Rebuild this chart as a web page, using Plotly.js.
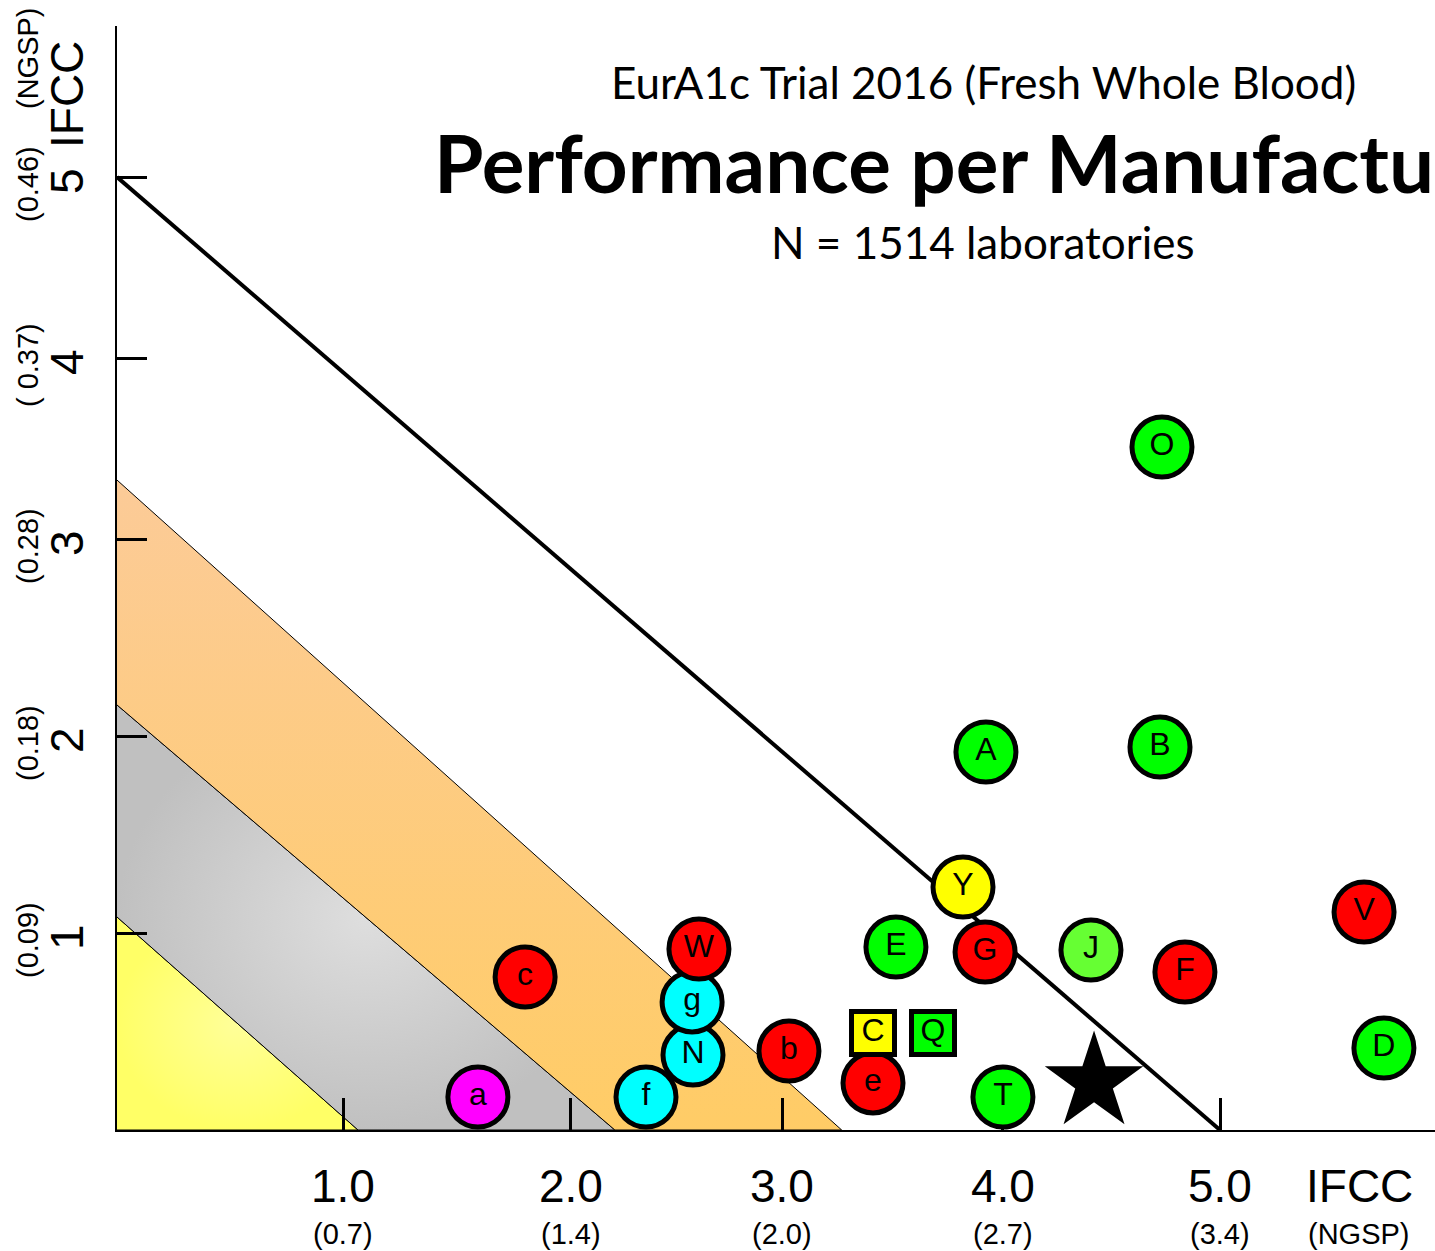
<!DOCTYPE html>
<html>
<head>
<meta charset="utf-8">
<script src="https://cdn.plot.ly/plotly-3.0.1.min.js"></script>
<style>
html,body{margin:0;padding:0;background:#ffffff;}
#chart{width:1435px;height:1251px;}
</style>
</head>
<body>
<div id="chart"></div>
<script>
// ---------------- data ----------------
// manufacturer codes, in drawing order
const labels   = ["a","c","N","f","g","W","b","e","C","Q","E","G","Y","J","F","T","A","B","O","V","D"];
// position on the IFCC axes (x: first criterion, y: second criterion)
const ifccX    = [1.636,1.850,2.611,2.398,2.607,2.638,3.046,3.427,3.427,3.699,3.531,3.935,3.835,4.415,4.841,4.016,3.939,4.728,4.737,5.653,5.743];
const ifccY    = [0.173,0.803,0.393,0.173,0.672,0.950,0.414,0.247,0.509,0.509,0.960,0.934,1.275,0.944,0.829,0.173,1.983,2.009,3.583,1.144,0.430];
// colour class and marker kind of each manufacturer
const rating   = ["magenta","red","cyan","cyan","cyan","red","red","red","yellow","green","green","red","yellow","lightgreen","red","green","green","green","green","red","green"];
const kind     = ["circle","circle","circle","circle","circle","circle","circle","circle","square","square","circle","circle","circle","circle","circle","circle","circle","circle","circle","circle","circle"];
// overall target (star)
const starX    = [4.429];
const starY    = [0.250];
// performance zone limits: intercepts on the x axis and on the y axis
const zoneX    = [1.0925, 2.257, 3.285, 5.0];
const zoneY    = [1.1175, 2.230, 3.410, 5.0];
// axis ticks
const xTickPos    = [1.0245, 2.058, 3.0145, 4.016, 5.0];
const xTickLabels = ["1.0","2.0","3.0","4.0","5.0"];
const xTickNgsp   = ["(0.7)","(1.4)","(2.0)","(2.7)","(3.4)"];
const yTickPos    = [1.0336, 2.067, 3.1007, 4.050, 5.0];
const yTickLabels = ["1","2","3","4","5"];
const yTickNgsp   = ["(0.09)","(0.18)","(0.28)","( 0.37)","(0.46)"];
const axisUnit    = "IFCC";
const axisUnitAlt = "(NGSP)";
const titleTop    = "EurA1c Trial 2016 (Fresh Whole Blood)";
const titleMain   = "Performance per Manufactu";
const titleSub    = "N = 1514 laboratories";

// ---------------- styles ----------------
const palette = {green:"#00FF00", lightgreen:"#66FF33", yellow:"#FFFF00", red:"#FF0000", cyan:"#00FFFF", magenta:"#FF00FF"};
const symbolOf = {circle:"circle", square:"square"};
const sizeOf = {circle:60, square:43};
const numFont = "Liberation Sans, Arial, sans-serif";
const titleFont = "Lato, 'Open Sans', sans-serif";

// plot area geometry in px
const L = 117, T = 26, W = 1318, H = 1104;
const pxX = 220.6, pxY = 190.6;  // px per axis unit
const xMax = W / pxX, yMax = H / pxY;
const paperX = px => (px - L) / W;
const paperY = py => (T + H - py) / H;

const traces = [];

// zone polygons
const zoneStyles = [
  {grad:{type:"radial", colorscale:[[0,"#FFFF99"],[1,"#FFFF66"]]}},
  {grad:{type:"radial", colorscale:[[0,"#DEDEDE"],[1,"#C0C0C0"]]}},
  {grad:{type:"vertical", start:0, stop:zoneY[2], colorscale:[[0,"#FFCC66"],[1,"#FCCB98"]]}}
];
for (let i = 0; i < 3; i++) {
  let xs, ys;
  if (i === 0) { xs = [0, zoneX[0], 0]; ys = [zoneY[0], 0, 0]; }
  else { xs = [0, zoneX[i], zoneX[i-1], 0]; ys = [zoneY[i], 0, 0, zoneY[i-1]]; }
  traces.push({
    type:"scatter", mode:"lines", x:xs, y:ys, fill:"toself",
    fillgradient: zoneStyles[i].grad, fillcolor:"#ffffff",
    line:{color:"#000000", width:1}, hoverinfo:"skip", showlegend:false, cliponaxis:false
  });
}
// outer limit line
traces.push({
  type:"scatter", mode:"lines", x:[0, zoneX[3]], y:[zoneY[3], 0],
  line:{color:"#000000", width:4}, hoverinfo:"skip", showlegend:false, cliponaxis:false
});
// manufacturers (on a second, identical subplot drawn above the axes)
traces.push({
  type:"scatter", mode:"markers+text", x:ifccX, y:ifccY, text:labels, xaxis:"x2", yaxis:"y2",
  textposition:"middle center",
  textfont:{family:numFont, size:32, color:"#000000"},
  marker:{
    color: rating.map(r => palette[r]),
    symbol: kind.map(k => symbolOf[k]),
    size: kind.map(k => sizeOf[k]),
    line:{color:"#000000", width:5}, opacity:1
  },
  showlegend:false, cliponaxis:false
});
// star
traces.push({
  type:"scatter", mode:"markers", x:starX, y:starY, xaxis:"x2", yaxis:"y2",
  marker:{symbol:"star", size:74, color:"#000000", line:{width:0}},
  showlegend:false, cliponaxis:false
});

const ann = [];
for (let i = 0; i < xTickPos.length; i++) {
  ann.push({x:xTickPos[i], xref:"x", y:paperY(1186), yref:"paper", text:xTickLabels[i], showarrow:false,
            xanchor:"center", yanchor:"middle", font:{family:numFont, size:46, color:"#000"}});
  ann.push({x:xTickPos[i], xref:"x", y:paperY(1234), yref:"paper", text:xTickNgsp[i], showarrow:false,
            xanchor:"center", yanchor:"middle", font:{family:numFont, size:29, color:"#000"}});
}
ann.push({x:paperX(1359), xref:"paper", y:paperY(1186), yref:"paper", text:axisUnit, showarrow:false,
          xanchor:"center", yanchor:"middle", font:{family:numFont, size:46, color:"#000"}});
ann.push({x:paperX(1359), xref:"paper", y:paperY(1234), yref:"paper", text:axisUnitAlt, showarrow:false,
          xanchor:"center", yanchor:"middle", font:{family:numFont, size:29, color:"#000"}});
for (let i = 0; i < yTickPos.length; i++) {
  ann.push({x:paperX(67), xref:"paper", y:yTickPos[i], yref:"y", yshift:-4, text:yTickLabels[i], showarrow:false,
            textangle:-90, xanchor:"center", yanchor:"middle", font:{family:numFont, size:46, color:"#000"}});
  ann.push({x:paperX(28), xref:"paper", y:yTickPos[i], yref:"y", yshift:-7, text:yTickNgsp[i], showarrow:false,
            textangle:-90, xanchor:"center", yanchor:"middle", font:{family:numFont, size:29, color:"#000"}});
}
ann.push({x:paperX(67), xref:"paper", y:paperY(95), yref:"paper", text:axisUnit, showarrow:false,
          textangle:-90, xanchor:"center", yanchor:"middle", font:{family:numFont, size:46, color:"#000"}});
ann.push({x:paperX(28), xref:"paper", y:paperY(58), yref:"paper", text:axisUnitAlt, showarrow:false,
          textangle:-90, xanchor:"center", yanchor:"middle", font:{family:numFont, size:29, color:"#000"}});
// titles
ann.push({x:paperX(983), xref:"paper", y:paperY(82), yref:"paper", text:titleTop, showarrow:false,
          xanchor:"center", yanchor:"middle", font:{family:titleFont, size:44, color:"#000"}});
ann.push({x:paperX(432), xref:"paper", y:paperY(162), yref:"paper", text:"<b>" + titleMain + "</b>", showarrow:false,
          xanchor:"left", yanchor:"middle", font:{family:titleFont, size:80, color:"#000"}});
ann.push({x:paperX(983), xref:"paper", y:paperY(242), yref:"paper", text:titleSub, showarrow:false,
          xanchor:"center", yanchor:"middle", font:{family:titleFont, size:44, color:"#000"}});

const axisCommon = {showgrid:false, zeroline:false, fixedrange:true};
const layout = {
  width:1435, height:1251,
  margin:{l:L, r:1435 - L - W, t:T, b:1251 - T - H, pad:0},
  paper_bgcolor:"#ffffff", plot_bgcolor:"rgba(0,0,0,0)",
  showlegend:false,
  xaxis:Object.assign({range:[0, xMax], showline:true, linecolor:"#000", linewidth:2,
         ticks:"inside", tickvals:xTickPos, ticklen:32, tickwidth:3, tickcolor:"#000", showticklabels:false}, axisCommon),
  yaxis:Object.assign({range:[0, yMax], showline:true, linecolor:"#000", linewidth:2,
         ticks:"inside", tickvals:yTickPos, ticklen:30, tickwidth:3, tickcolor:"#000", showticklabels:false}, axisCommon),
  xaxis2:Object.assign({range:[0, xMax], domain:[0,1], anchor:"y2", visible:false}, axisCommon),
  yaxis2:Object.assign({range:[0, yMax], domain:[0,1], anchor:"x2", visible:false}, axisCommon),
  annotations: ann
};

Plotly.newPlot("chart", traces, layout, {displayModeBar:false, staticPlot:true});
</script>
</body>
</html>
